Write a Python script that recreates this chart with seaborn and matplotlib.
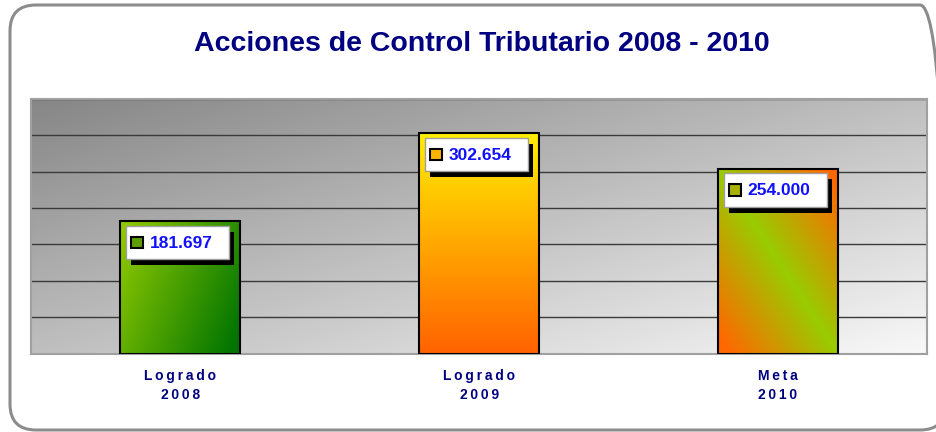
import numpy as np
import matplotlib
matplotlib.use('Agg')
import matplotlib.pyplot as plt
import matplotlib.transforms as mtransforms
from matplotlib.patches import FancyBboxPatch, Rectangle
import seaborn as sns

# data
categories = ['Logrado\n2008', 'Logrado\n2009', 'Meta\n2010']
values = [181.697, 302.654, 254.000]
value_labels = ['181.697', '302.654', '254.000']
title = 'Acciones de Control Tributario 2008 - 2010'

sns.set_style('white')
plt.rcParams['font.family'] = ['Liberation Sans', 'DejaVu Sans']

navy = '#000080'
fig = plt.figure(figsize=(9.36, 4.32), dpi=100)
ax = fig.add_axes([30.7 / 936, 78.5 / 432, 896.8 / 936, 254.5 / 432])

sns.barplot(x=categories, y=values, width=0.4, color='white',
            edgecolor='black', linewidth=1.5, ax=ax, zorder=3)
bars = list(ax.patches)

xlim = (-0.5, len(categories) - 0.5)
ylim = (0, 350)

# gradient helpers (u: left->right, v: top->bottom)
n = 200
u, v = np.meshgrid(np.linspace(0, 1, n), np.linspace(0, 1, n))


def blend(t, c0, c1):
    c0 = np.array(c0) / 255.0
    c1 = np.array(c1) / 255.0
    t = np.clip(t, 0, 1)[..., None]
    return c0 + (c1 - c0) * t


# plot background: dark grey top-left to near white bottom-right
bg = blend((u + v) / 2, (134, 134, 134), (248, 248, 248))
ax.imshow(bg, extent=[xlim[0], xlim[1], ylim[0], ylim[1]], aspect='auto',
          origin='upper', zorder=0)

fills = [
    blend(0.75 * u + 0.35 * v - 0.05, (142, 200, 0), (0, 116, 0)),
    blend(v, (255, 240, 0), (255, 98, 0)),
    blend(np.abs(u - v) * 1.1, (153, 204, 0), (255, 104, 0)),
]
square_colors = ['#5c9e00', '#ffb400', '#a8b000']

for p, img in zip(bars, fills):
    x0, y0 = p.get_x(), p.get_y()
    x1, y1 = x0 + p.get_width(), y0 + p.get_height()
    im = ax.imshow(img, extent=[x0, x1, y0, y1], aspect='auto',
                   origin='upper', zorder=2)
    im.set_clip_path(p)
    p.set_facecolor('none')

ax.set_xlim(*xlim)
ax.set_ylim(*ylim)

# grid and axes styling
ax.set_yticks(np.arange(0, 351, 50))
ax.yaxis.grid(True, color='#3a3a3a', linewidth=1)
ax.set_axisbelow(True)
ax.tick_params(axis='y', length=0, labelleft=False)
for s in ax.spines.values():
    s.set_color('#a0a0a0')
    s.set_linewidth(1.5)


def spaced(label):
    # the original labels are drawn with wide letter spacing
    return '\n'.join('\u2009'.join(line) for line in label.split('\n'))


ax.set_xticks(range(len(categories)))
ax.set_xticklabels([spaced(c) for c in categories], fontsize=10,
                   fontweight='bold', color=navy, linespacing=1.45)
ax.tick_params(axis='x', which='major', length=0, pad=11.5)
ax.set_xticks(np.arange(-0.5, len(categories), 1.0), minor=True)
ax.tick_params(axis='x', which='minor', length=4, width=1, color='#a0a0a0')
ax.set_xlabel('')
ax.set_ylabel('')

# value labels: white box with black shadow, colour key and blue number
for p, lab, sq in zip(bars, value_labels, square_colors):
    x0 = p.get_x()
    top = p.get_y() + p.get_height()
    trans = fig.dpi_scale_trans + mtransforms.ScaledTranslation(x0, top, ax.transData)
    ax.add_patch(Rectangle((0.11, -0.44), 1.03, 0.335, transform=trans,
                           facecolor='black', edgecolor='none', zorder=5))
    ax.add_patch(Rectangle((0.06, -0.378), 1.03, 0.335, transform=trans,
                           facecolor='white', edgecolor='#a0a0a0', lw=1, zorder=6))
    ax.add_patch(Rectangle((0.11, -0.27), 0.115, 0.115, transform=trans,
                           facecolor=sq, edgecolor='black', lw=1.5, zorder=7))
    ax.text(0.29, -0.265, lab, transform=trans, fontsize=12.5, fontweight='bold',
            color='#1010ff', ha='left', va='baseline', zorder=8)

# title and outer rounded frame (right side runs past the image edge)
fig.text(0.515, 1 - 50.7 / 432, title, ha='center', va='baseline',
         fontsize=20.5, fontweight='bold', color=navy)
frame = FancyBboxPatch((0.10, 0.02), 9.36, 4.25,
                       boxstyle='round,pad=0,rounding_size=0.26',
                       transform=fig.dpi_scale_trans, facecolor='none',
                       edgecolor='#8c8c8c', linewidth=2.2)
fig.add_artist(frame)

fig.savefig('out.png', dpi=100)
